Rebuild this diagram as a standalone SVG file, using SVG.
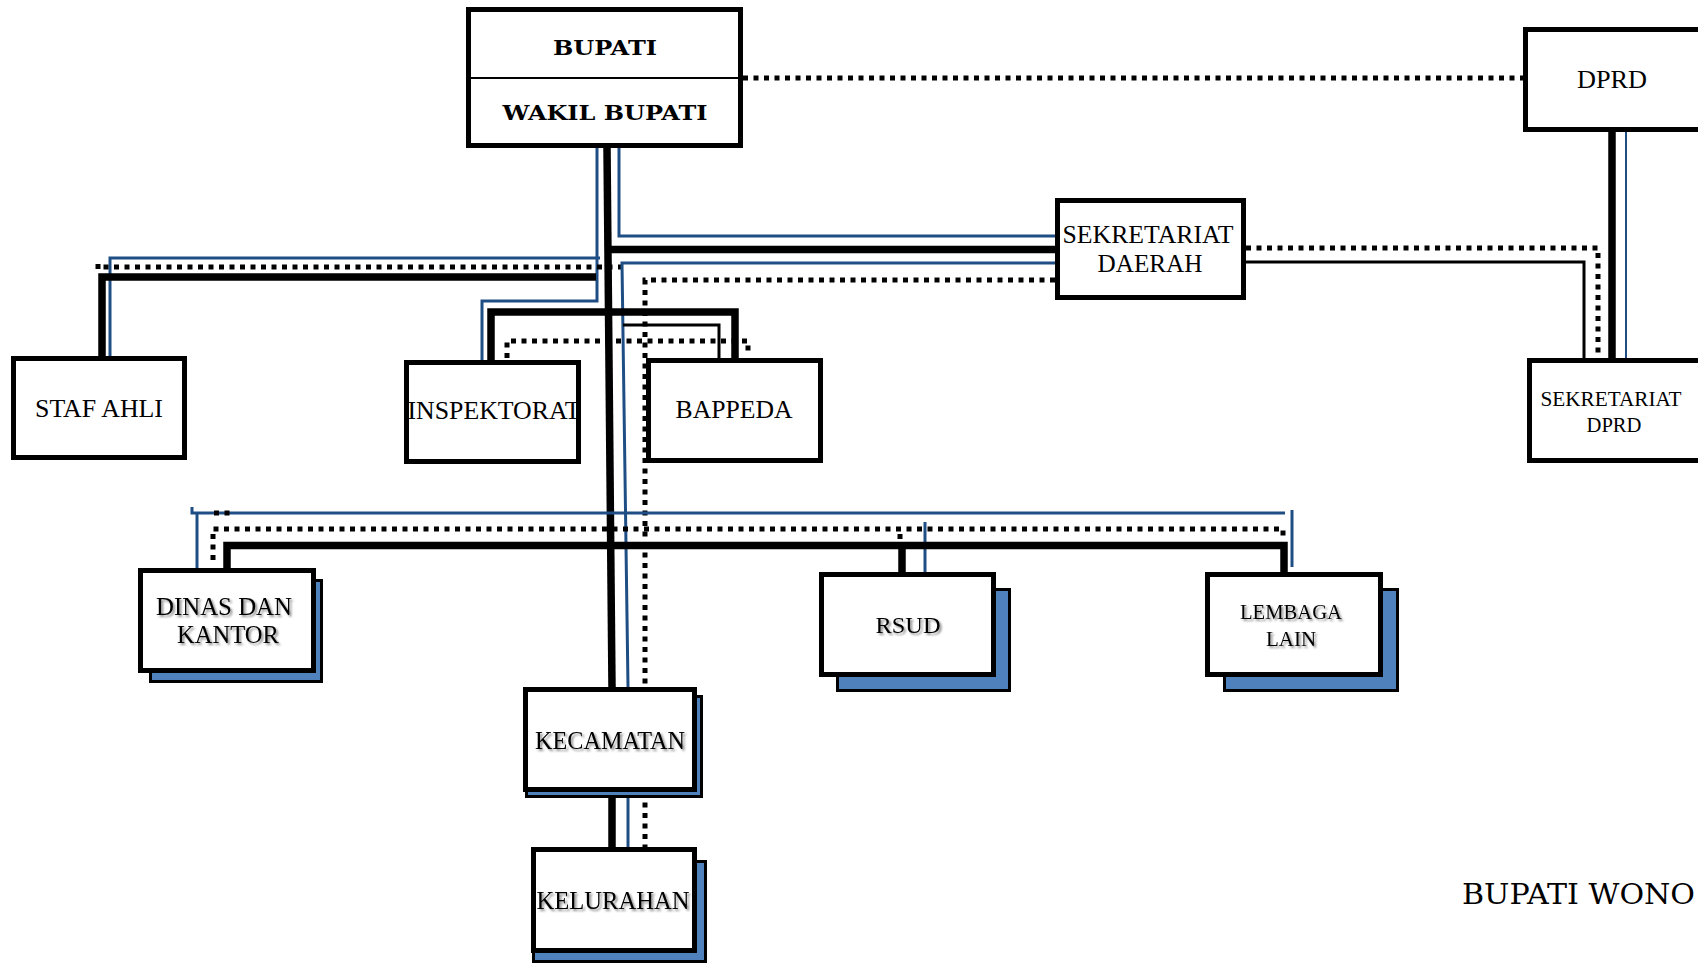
<svg xmlns="http://www.w3.org/2000/svg" width="1698" height="963" viewBox="0 0 1698 963">
<defs>
<style>
.box{fill:#fff;stroke:#000;stroke-width:5}
.shadow{fill:#4f81bd;stroke:#000;stroke-width:3}
.t{font-family:"Liberation Serif","Times New Roman",serif;fill:#000;text-anchor:middle}
.tb{font-family:"DejaVu Serif","Liberation Serif",serif;font-weight:bold;fill:#000;text-anchor:middle}
.dot{fill:none;stroke:#000;stroke-width:5;stroke-dasharray:5 5.5}
.blue{fill:none;stroke:#1f4e85;stroke-width:3}
.thick{fill:none;stroke:#000;stroke-width:7.5}
.thin{fill:none;stroke:#000;stroke-width:3}
.ts{filter:url(#tsh)}
</style>
<filter id="tsh" x="-10%" y="-30%" width="120%" height="160%">
<feDropShadow dx="2" dy="2" stdDeviation="1.3" flood-color="#000" flood-opacity="0.45"/>
</filter>
</defs>
<rect width="1698" height="963" fill="#fff"/>

<g id="connectors">
<path class="dot" d="M743 78 H1523"/>
<path class="thick" d="M1612 132 V358"/>
<path fill="none" stroke="#1f4e85" stroke-width="2" d="M1626 132 V358"/>
<path class="dot" d="M1246 248 H1598 V358"/>
<path class="thin" d="M1246 262 H1584 V358"/>

<path class="thick" d="M607 148 L612 687"/>
<path class="thick" d="M612 792 V847"/>
<path class="blue" d="M597 148 V301 H482 V360"/>
<path class="blue" d="M600 258 H110 V356"/>
<path class="thick" d="M596 277 H102 V356"/>
<path class="dot" d="M623 267 H98"/>
<path class="dot" d="M98 264 V272" stroke-dasharray="none" stroke-width="4"/>
<path class="blue" d="M619 148 V236 H1055"/>
<path class="thick" d="M607 249.5 H1055"/>
<path class="blue" d="M1055 263 H622 L628 687"/>
<path class="blue" d="M628 792 V847"/>
<path class="dot" d="M1055 280 H645 V687"/>
<path class="dot" d="M645 792 V847"/>

<path class="thick" d="M491 360 V312 H735 V358" stroke-width="8"/>
<path class="thin" d="M623 325 H719 V358"/>
<path class="dot" d="M507 358 V341 H748 V353"/>

<path class="blue" d="M192 507 V513 H1285"/>
<path class="blue" d="M197 513 V568"/>
<path class="blue" d="M1292 510 V567"/>
<path class="blue" d="M925 522 V572"/>
<path class="dot" d="M213 560 V529 H1283 V541"/>
<path class="dot" d="M214 513 H230"/>
<path class="dot" d="M900 534 V540" stroke-dasharray="none"/>
<path class="thick" d="M227 568 V545.5 H1284 V572"/>
<path class="thick" d="M902 545 V572"/>
</g>

<g id="bupati">
<rect class="box" x="468.5" y="9.5" width="272" height="136"/>
<line x1="468" y1="78" x2="741" y2="78" stroke="#000" stroke-width="2"/>
<text class="tb" x="605" y="55" font-size="21" textLength="104" lengthAdjust="spacingAndGlyphs">BUPATI</text>
<text class="tb" x="605" y="120" font-size="21" textLength="205" lengthAdjust="spacingAndGlyphs">WAKIL BUPATI</text>
</g>

<g id="dprd">
<rect class="box" x="1525.5" y="29.5" width="180" height="100"/>
<text class="t" x="1612" y="88" font-size="26" textLength="70" lengthAdjust="spacingAndGlyphs">DPRD</text>
</g>

<g id="sekda">
<rect class="box" x="1057.5" y="200.5" width="186" height="97"/>
<text class="t" x="1148" y="243" font-size="26" textLength="171" lengthAdjust="spacingAndGlyphs">SEKRETARIAT</text>
<text class="t" x="1150" y="272" font-size="26" textLength="105" lengthAdjust="spacingAndGlyphs">DAERAH</text>
</g>

<g id="sekretariat-dprd">
<rect class="box" x="1529.5" y="360.5" width="180" height="100"/>
<text class="t" x="1611" y="406" font-size="20" textLength="141" lengthAdjust="spacingAndGlyphs">SEKRETARIAT</text>
<text class="t" x="1614" y="432" font-size="20" textLength="55" lengthAdjust="spacingAndGlyphs">DPRD</text>
</g>

<g id="staf-ahli">
<rect class="box" x="13.5" y="358.5" width="171" height="99"/>
<text class="t" x="99" y="417" font-size="25" textLength="128" lengthAdjust="spacingAndGlyphs">STAF AHLI</text>
</g>

<g id="inspektorat">
<rect class="box" x="406.5" y="362.5" width="172" height="99"/>
<text class="t" x="494" y="419" font-size="25" textLength="173" lengthAdjust="spacingAndGlyphs">INSPEKTORAT</text>
</g>

<g id="bappeda">
<rect class="box" x="648.5" y="360.5" width="172" height="100"/>
<text class="t" x="734" y="418" font-size="25" textLength="117" lengthAdjust="spacingAndGlyphs">BAPPEDA</text>
</g>

<g id="dinas">
<rect class="shadow" x="150.5" y="580.5" width="171" height="101"/>
<rect class="box" x="140.5" y="570.5" width="173" height="100"/>
<g class="ts">
<text class="t" x="224" y="615" font-size="25" textLength="136" lengthAdjust="spacingAndGlyphs">DINAS DAN</text>
<text class="t" x="228" y="643" font-size="25" textLength="102" lengthAdjust="spacingAndGlyphs">KANTOR</text>
</g>
</g>

<g id="rsud">
<rect class="shadow" x="837.5" y="589.5" width="172" height="101"/>
<rect class="box" x="821.5" y="574.5" width="172" height="100"/>
<text class="t ts" x="908" y="633" font-size="24" textLength="65" lengthAdjust="spacingAndGlyphs">RSUD</text>
</g>

<g id="lembaga-lain">
<rect class="shadow" x="1224.5" y="589.5" width="173" height="101"/>
<rect class="box" x="1207.5" y="574.5" width="173" height="100"/>
<g class="ts">
<text class="t" x="1291" y="619" font-size="20" textLength="102" lengthAdjust="spacingAndGlyphs">LEMBAGA</text>
<text class="t" x="1291" y="646" font-size="20" textLength="50" lengthAdjust="spacingAndGlyphs">LAIN</text>
</g>
</g>

<g id="kecamatan">
<rect class="shadow" x="526.5" y="696.5" width="175" height="100"/>
<rect class="box" x="525.5" y="689.5" width="169" height="100"/>
<text class="t ts" x="610" y="749" font-size="25" textLength="150" lengthAdjust="spacingAndGlyphs">KECAMATAN</text>
</g>

<g id="kelurahan">
<rect class="shadow" x="533.5" y="861.5" width="172" height="100"/>
<rect class="box" x="533.5" y="849.5" width="161" height="101"/>
<text class="t ts" x="613" y="909" font-size="25" textLength="153" lengthAdjust="spacingAndGlyphs">KELURAHAN</text>
</g>

<g id="signature">
<text x="1462" y="904" font-family="DejaVu Serif, Liberation Serif, serif" font-size="28" fill="#000" textLength="233" lengthAdjust="spacingAndGlyphs">BUPATI WONO</text>
</g>
</svg>
